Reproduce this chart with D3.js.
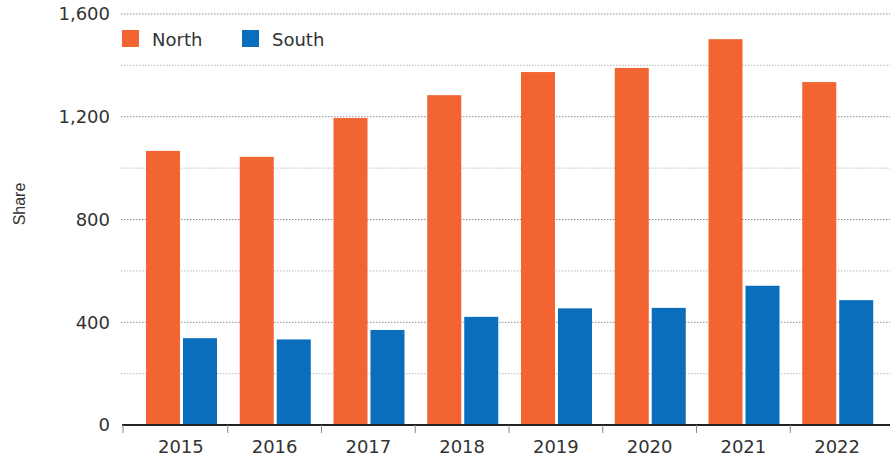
<!DOCTYPE html>
<html>
<head>
<meta charset="utf-8">
<script src="https://cdn.jsdelivr.net/npm/d3@7"></script>
<style>
  body { margin: 0; background: #fff; }
  svg text { font-family: "DejaVu Sans", sans-serif; }
</style>
</head>
<body>
<div id="chart"></div>
<script>
// data
const years = ["2015", "2016", "2017", "2018", "2019", "2020", "2021", "2022"];
const series = ["North", "South"];
const north = [1067, 1044, 1195, 1284, 1374, 1390, 1502, 1335];
const south = [338, 333, 370, 421, 454, 456, 542, 486];
const yTicks = [0, 400, 800, 1200, 1600];
const yGrid = [200, 400, 600, 800, 1000, 1200, 1400, 1600];

const colours = {North: "#f26532", South: "#0a6ebd"};

const width = 890, height = 461;

const svg = d3.select("#chart")
    .append("svg")
    .attr("width", width)
    .attr("height", height);

// scales
const x0 = d3.scaleBand()
    .domain(years)
    .range([134, 884]);

const x1 = d3.scaleBand()
    .domain(series)
    .range([12, 83])
    .paddingInner(0.08);

const y = d3.scaleLinear()
    .domain([0, 1600])
    .range([425, 14]);

// dotted gridlines, darker on the labelled values
svg.append("g")
    .selectAll("line")
    .data(yGrid)
    .enter()
    .append("line")
    .attr("x1", 121)
    .attr("x2", width)
    .attr("y1", d => y(d))
    .attr("y2", d => y(d))
    .attr("stroke", d => d % 400 === 0 ? "#8a8a8a" : "#c8c8c8")
    .attr("stroke-width", 1.2)
    .attr("stroke-dasharray", "1.5,1.5");

// y axis labels
const yAxis = svg.append("g")
    .attr("transform", "translate(110,0)")
    .call(d3.axisLeft(y).tickValues(yTicks).tickSize(0).tickPadding(0).tickFormat(d3.format(",")));
yAxis.select(".domain").remove();
yAxis.selectAll("text")
    .style("font-size", "18px")
    .attr("fill", "#333");

// bars
const rows = years.map((yr, i) => ({year: yr, North: north[i], South: south[i]}));

const groups = svg.append("g")
    .selectAll("g")
    .data(rows)
    .enter()
    .append("g")
    .attr("transform", d => `translate(${x0(d.year)},0)`);

groups.selectAll("rect")
    .data(d => series.map(s => ({key: s, value: d[s]})))
    .enter()
    .append("rect")
    .attr("x", d => x1(d.key))
    .attr("y", d => y(d.value))
    .attr("width", x1.bandwidth())
    .attr("height", d => y(0) - y(d.value))
    .attr("fill", d => colours[d.key]);

// x axis: baseline, ticks between years, labels
const xAxis = svg.append("g").attr("transform", `translate(0,${y(0)})`);

xAxis.append("line")
    .attr("x1", 122)
    .attr("x2", width)
    .attr("stroke", "#222")
    .attr("stroke-width", 2);

const tickXs = [123].concat(years.slice(1).map(d => x0(d)));
xAxis.selectAll(".tick-mark")
    .data(tickXs)
    .enter()
    .append("line")
    .attr("class", "tick-mark")
    .attr("x1", d => d)
    .attr("x2", d => d)
    .attr("y1", 0)
    .attr("y2", 8)
    .attr("stroke", "#888")
    .attr("stroke-width", 1);

xAxis.selectAll(".year")
    .data(years)
    .enter()
    .append("text")
    .attr("class", "year")
    .attr("x", d => x0(d) + x0.bandwidth() / 2)
    .attr("y", 28)
    .attr("text-anchor", "middle")
    .style("font-size", "18px")
    .attr("fill", "#333")
    .text(d => d);

// y title
svg.append("text")
    .attr("transform", "translate(25,204) rotate(-90)")
    .attr("text-anchor", "middle")
    .style("font-family", "'Liberation Sans', sans-serif")
    .style("font-size", "16px")
    .attr("fill", "#333")
    .text("Share");

// legend
const legend = svg.append("g")
    .selectAll("g")
    .data(series)
    .enter()
    .append("g")
    .attr("transform", (d, i) => `translate(${122 + i * 120},30)`);

legend.append("rect")
    .attr("width", 17)
    .attr("height", 17)
    .attr("fill", d => colours[d]);

legend.append("text")
    .attr("x", 30)
    .attr("y", 16)
    .style("font-size", "18px")
    .attr("fill", "#333")
    .text(d => d);
</script>
</body>
</html>
